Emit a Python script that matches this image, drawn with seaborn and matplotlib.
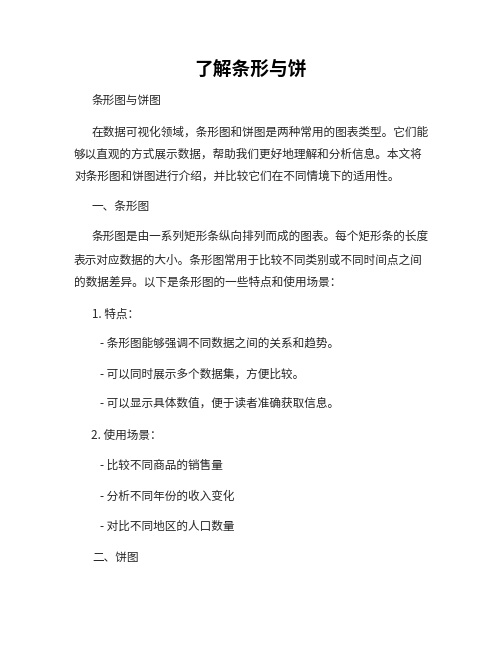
import matplotlib
matplotlib.use("Agg")
import matplotlib.pyplot as plt
import seaborn as sns

sns.set_theme(style="white")
plt.rcParams["font.family"] = ["Noto Sans CJK SC", "DejaVu Sans"]

title = "了解条形与饼"

# (text, x, y) in page pixels
lines = [
    "条形图与饼图",
    "在数据可视化领域，条形图和饼图是两种常用的图表类型。它们能",
    "够以直观的方式展示数据，帮助我们更好地理解和分析信息。本文将",
    "对条形图和饼图进行介绍，并比较它们在不同情境下的适用性。",
    "一、条形图",
    "条形图是由一系列矩形条纵向排列而成的图表。每个矩形条的长度",
    "表示对应数据的大小。条形图常用于比较不同类别或不同时间点之间",
    "的数据差异。以下是条形图的一些特点和使用场景：",
    "1. 特点：",
    "- 条形图能够强调不同数据之间的关系和趋势。",
    "- 可以同时展示多个数据集，方便比较。",
    "- 可以显示具体数值，便于读者准确获取信息。",
    "2. 使用场景：",
    "- 比较不同商品的销售量",
    "- 分析不同年份的收入变化",
    "- 对比不同地区的人口数量",
    "二、饼图",
]
line_x = [92, 92, 74, 74, 92, 92, 74, 74, 92, 100, 100, 100, 91, 100, 100, 100, 92]
line_y = [101, 132, 154, 176, 206, 236, 260, 282, 314, 343, 374, 403, 435, 465, 496, 526, 557]

fig = plt.figure(figsize=(5.02, 6.49), dpi=100)
ax = fig.add_axes([0, 0, 1, 1])
ax.set_xlim(0, 502)
ax.set_ylim(649, 0)
ax.axis("off")

ax.text(251, 70, title, ha="center", va="center", fontsize=13.5,
        fontweight="bold", color="#000000")

for txt, x, y in zip(lines, line_x, line_y):
    ax.text(x, y, txt, ha="left", va="center", fontsize=8.4, color="#262626")

fig.savefig("out.png", dpi=100, facecolor="white")
